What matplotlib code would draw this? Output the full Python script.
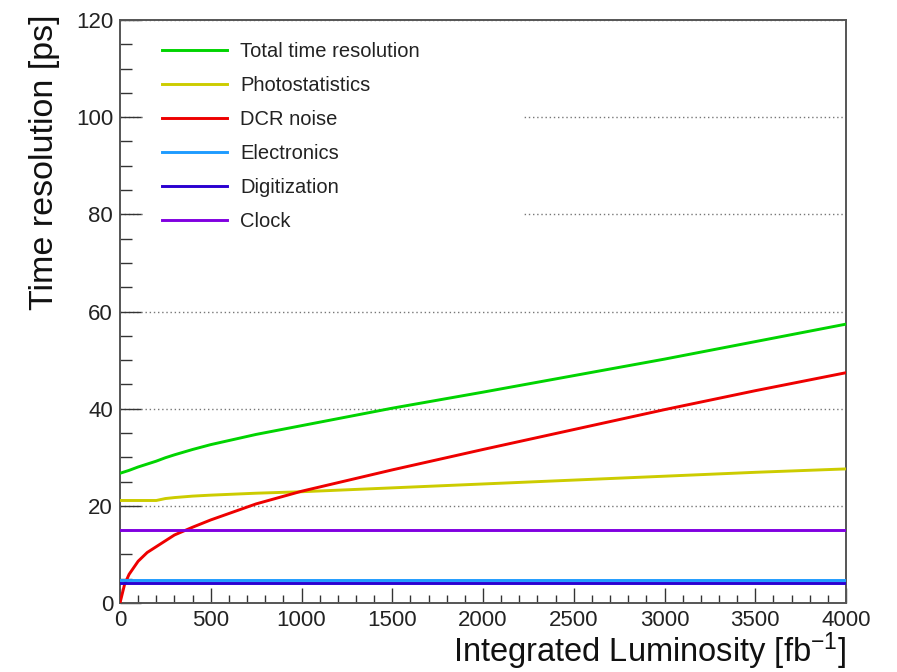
import matplotlib
matplotlib.use("Agg")
import matplotlib.pyplot as plt
from matplotlib.ticker import MultipleLocator

plt.rcParams['font.family'] = ['Liberation Sans', 'DejaVu Sans']
plt.rcParams['mathtext.fontset'] = 'custom'
plt.rcParams['mathtext.rm'] = 'Liberation Sans'
plt.rcParams['mathtext.it'] = 'Liberation Sans:italic'

# ---- data ----
lumi = [0, 25, 50, 100, 150, 200, 250, 300, 400, 500, 750, 1000, 1500, 2000, 2500, 3000, 3500, 4000]
total = [26.7, 27.0, 27.3, 28.0, 28.6, 29.2, 29.9, 30.5, 31.6, 32.6, 34.7, 36.5, 40.1, 43.4, 46.8, 50.2, 53.8, 57.4]
photo = [21.1, 21.1, 21.1, 21.1, 21.1, 21.1, 21.5, 21.7, 22.0, 22.2, 22.6, 22.9, 23.7, 24.5, 25.3, 26.1, 26.9, 27.6]
dcr = [0.0, 3.8, 5.9, 8.6, 10.4, 11.6, 12.8, 14.0, 15.6, 17.1, 20.4, 23.0, 27.4, 31.6, 35.7, 39.8, 43.7, 47.4]
electronics = [4.8] * len(lumi)
digitization = [4.2] * len(lumi)
clock = [15.0] * len(lumi)

labels = ["Total time resolution", "Photostatistics", "DCR noise",
          "Electronics", "Digitization", "Clock"]
colors = ["#00d400", "#cccc00", "#ee0000", "#1e9bff", "#2a00d0", "#8000e0"]
series = [total, photo, dcr, electronics, digitization, clock]

fig = plt.figure(figsize=(8.97, 6.72), dpi=100)
ax = fig.add_axes([120/897, 1-603/672, (846-120)/897, (603-20)/672])

for y, lab, c in zip(series, labels, colors):
    ax.plot(lumi, y, color=c, lw=2.1, label=lab, zorder=3)

ax.set_xlim(0, 4000)
ax.set_ylim(0, 120)
ax.xaxis.set_major_locator(MultipleLocator(500))
ax.xaxis.set_minor_locator(MultipleLocator(100))
ax.yaxis.set_major_locator(MultipleLocator(20))
ax.yaxis.set_minor_locator(MultipleLocator(5))

ax.grid(axis='y', which='major', linestyle=(0, (1, 2)), color='#777777', lw=1.0, zorder=1)

ax.tick_params(axis='both', which='both', direction='in', colors='#333333',
               labelcolor='#222222', labelsize=16, top=False, right=False)
ax.tick_params(axis='x', which='major', length=11, width=1.0, pad=5)
ax.tick_params(axis='x', which='minor', length=5.5, width=1.0)
ax.tick_params(axis='y', which='major', length=15, width=1.0, pad=5)
ax.tick_params(axis='y', which='minor', length=8.5, width=1.0)

for s in ax.spines.values():
    s.set_color('#555555')
    s.set_linewidth(1.4)

ax.set_ylabel("Time resolution [ps]", fontsize=24.5, loc='top', color='#111111')
ax.yaxis.set_label_coords(-0.082, 1.009)
ax.set_xlabel("Integrated Luminosity [fb$^{-1}$]", fontsize=23.5, loc='right', color='#111111')
ax.xaxis.set_label_coords(1.0, -0.047)

leg = ax.legend(loc='upper left', bbox_to_anchor=(0.033, 0.994, 0.52, 0.0), mode='expand',
                borderaxespad=0, borderpad=0.9, fontsize=14.5, handlelength=3.23,
                handletextpad=0.65, labelspacing=0.75, frameon=True, fancybox=False)
leg.get_frame().set_edgecolor('white')
leg.get_frame().set_facecolor('white')
leg.get_frame().set_alpha(1.0)
leg.set_zorder(2)
for t in leg.get_texts():
    t.set_color('#222222')

fig.savefig("out.png", dpi=100)
